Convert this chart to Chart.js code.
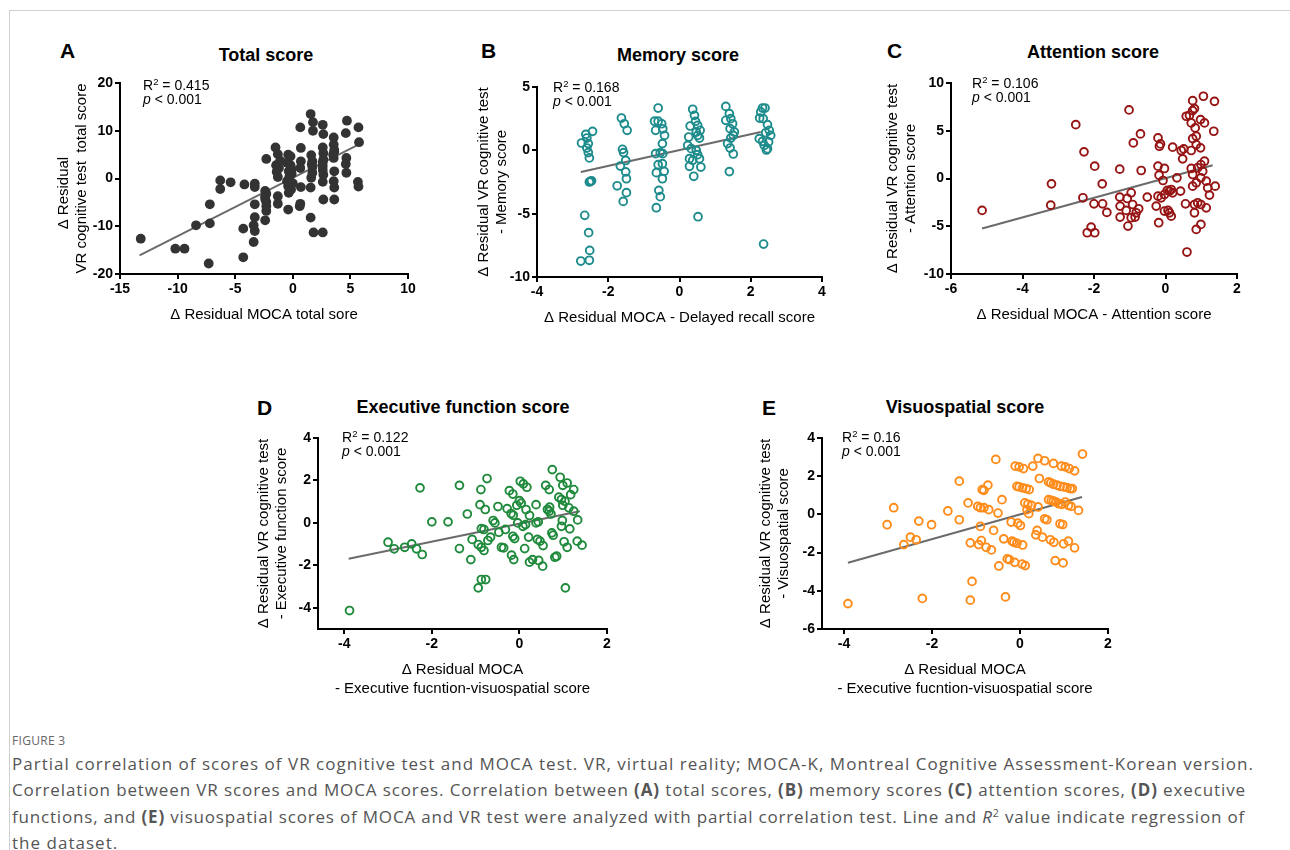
<!DOCTYPE html>
<html>
<head>
<meta charset="utf-8">
<script src="https://cdn.jsdelivr.net/npm/chart.js@4.4.1/dist/chart.umd.min.js"></script>
<style>
  html, body { margin:0; padding:0; background:#fff; }
  body { width:1290px; height:850px; position:relative; overflow:hidden; font-family:"Liberation Sans", Arial, sans-serif; }
  .frame { position:absolute; left:9px; top:10px; width:1400px; height:900px; border-top:1px solid #cfcfcf; border-left:1px solid #cfcfcf; }
  canvas { position:absolute; }
  .letter { position:absolute; font-weight:bold; font-size:21px; line-height:21px; color:#000; }
  .ptitle { position:absolute; font-weight:bold; font-size:18px; line-height:18px; color:#000; white-space:nowrap; transform:translateX(-50%); }
  .ann { position:absolute; font-size:14px; line-height:14px; color:#000; white-space:nowrap; }
  .ann sup { font-size:0.68em; position:relative; top:-0.5em; vertical-align:baseline; line-height:0; }
  .figlabel { position:absolute; left:12px; top:732px; font-family:"Open Sans", sans-serif; font-size:12px; color:#666; letter-spacing:0.3px; }
  .caption { position:absolute; left:12px; top:751px; font-family:"Open Sans", sans-serif; font-size:17px; line-height:26.3px; color:#555; white-space:nowrap; }
  .caption div { white-space:nowrap; }
  .caption sup { font-size:0.62em; position:relative; top:-0.5em; vertical-align:baseline; line-height:0; }
</style>
</head>
<body>
<div class="frame"></div>

<canvas id="cA"></canvas>
<canvas id="cB"></canvas>
<canvas id="cC"></canvas>
<canvas id="cD"></canvas>
<canvas id="cE"></canvas>

<div class="letter" style="left:60px;top:40px">A</div>
<div class="letter" style="left:481px;top:40px">B</div>
<div class="letter" style="left:887px;top:40px">C</div>
<div class="letter" style="left:257px;top:397px">D</div>
<div class="letter" style="left:762px;top:397px">E</div>

<div class="ptitle" style="left:266px;top:46px">Total score</div>
<div class="ptitle" style="left:678px;top:46px">Memory score</div>
<div class="ptitle" style="left:1093px;top:43px">Attention score</div>
<div class="ptitle" style="left:463px;top:398px">Executive function score</div>
<div class="ptitle" style="left:965px;top:398px">Visuospatial score</div>

<div class="ann" style="left:143px;top:78px">R<sup>2</sup> = 0.415<br><i>p</i> &lt; 0.001</div>
<div class="ann" style="left:553px;top:80px">R<sup>2</sup> = 0.168<br><i>p</i> &lt; 0.001</div>
<div class="ann" style="left:972px;top:76px">R<sup>2</sup> = 0.106<br><i>p</i> &lt; 0.001</div>
<div class="ann" style="left:342px;top:430px">R<sup>2</sup> = 0.122<br><i>p</i> &lt; 0.001</div>
<div class="ann" style="left:842px;top:430px">R<sup>2</sup> = 0.16<br><i>p</i> &lt; 0.001</div>

<div class="figlabel">FIGURE 3</div>
<div class="caption" id="cap">
<div><span id="cap1">Partial correlation of scores of VR cognitive test and MOCA test. VR, virtual reality; MOCA-K, Montreal Cognitive Assessment-Korean version.</span></div>
<div><span id="cap2">Correlation between VR scores and MOCA scores. Correlation between <b>(A)</b> total scores, <b>(B)</b> memory scores <b>(C)</b> attention scores, <b>(D)</b> executive</span></div>
<div><span id="cap3">functions, and <b>(E)</b> visuospatial scores of MOCA and VR test were analyzed with partial correlation test. Line and <i>R</i><sup>2</sup> value indicate regression of</span></div>
<div><span id="cap4">the dataset.</span></div>
</div>

<script>
// ---------- DATA ----------
const totalPts = [[-13.2,-12.6],[-10.2,-14.7],[-9.4,-14.7],[-8.4,-9.8],[-7.2,-5.4],[-7.2,-9.4],[-7.3,-17.8],[-6.3,-0.4],[-6.3,-2.2],[-5.4,-0.8],[-4.3,-10.5],[-4.3,-16.5],[-4.2,-1.25],[-3.3,-1.1],[-3.3,-1.8],[-3.3,-5.4],[-3.3,-8.1],[-3.4,-9.8],[-3.3,-11],[-3.4,-13.3],[-2.3,4.1],[-2.4,-2.6],[-2.4,-3.7],[-2.3,-4.9],[-2.3,-5.8],[-2.3,-6.8],[-2.4,-8.75],[-2.3,-3.2],[-2.4,-4.3],[-1.5,6.5],[-1.3,5.1],[-1.45,2.8],[-1.4,1.4],[-1.3,0.3],[-1.3,-3.7],[-1.3,-5.3],[-1.1,3.75],[-1.2,2.2],[-0.4,-6.5],[-0.4,5],[-0.5,3.3],[-0.35,1.5],[-0.5,-0.55],[-0.4,-1.6],[-0.35,-3],[-0.2,4.65],[-0.2,2.8],[-0.3,0.3],[-0.15,-2.3],[-0.1,1],[0,-1],[-0.1,2],[0.65,10.7],[0.7,6.4],[0.7,3.6],[0.65,2.2],[0.7,-1.8],[0.65,-5.3],[0.6,-5.8],[1.55,13.5],[1.75,11.8],[1.75,10],[1.6,4.9],[1.7,3.6],[1.7,2.4],[1.6,0.15],[1.55,-1.9],[1.55,-8.2],[1.8,-11.3],[1.65,3],[2.6,-11.3],[2.6,11.25],[2.65,9.3],[2.6,6.5],[2.65,5.3],[2.65,4],[2.6,2.6],[2.65,0.8],[2.6,-0.7],[2.65,-4.4],[2.6,3.4],[2.6,1.8],[3.55,8.6],[3.55,7.1],[3.6,6],[3.55,4.3],[3.6,1.5],[3.55,-0.55],[3.6,-1.9],[3.6,-4.4],[3.5,5],[3.6,5.6],[4.7,12.1],[4.6,9.5],[4.65,4.3],[4.65,1.2],[4.6,3.05],[5.7,10.7],[5.75,7.6],[5.65,-0.7],[5.7,-1.7],[1.7,1.2]];
const totalFit = [[-13.3,-16.1],[5.7,7.1]];

const memoryPts = [[-2.75,0.58],[-2.63,1.26],[-2.6,0.97],[-2.44,1.5],[-2.56,0.53],[-2.6,0.18],[-2.56,-0.18],[-2.53,-0.6],[-2.5,-2.45],[-2.47,-2.4],[-2.53,-2.5],[-2.66,-5.13],[-2.55,-6.5],[-2.52,-7.9],[-2.77,-8.74],[-2.53,-8.68],
[-1.63,2.55],[-1.55,2.1],[-1.47,1.58],[-1.6,0.08],[-1.57,-0.18],[-1.51,-0.8],[-1.66,-1.24],[-1.51,-1.7],[-1.49,-2.24],[-1.75,-2.8],[-1.49,-3.34],[-1.58,-4.03],
[-0.6,3.34],[-0.7,2.3],[-0.6,2.3],[-0.5,2.1],[-0.47,1.7],[-0.67,1.58],[-0.42,1.18],[-0.48,0.53],[-0.67,-0.26],[-0.54,-0.18],[-0.47,-0.26],[-0.48,-1.05],[-0.6,-1.13],[-0.65,-1.76],[-0.48,-2.24],[-0.58,-3.16],[-0.54,-3.66],[-0.65,-4.53],[-0.43,-1.66],
[0.37,3.24],[0.42,2.76],[0.45,2.29],[0.3,1.92],[0.51,1.97],[0.58,1.58],[0.47,1.45],[0.51,1.18],[0.56,0.97],[0.26,1.05],[0.23,0.39],[0.33,0.13],[0.47,0],[0.51,-0.34],[0.56,-0.66],[0.28,-0.66],[0.37,-0.79],[0.28,-1.26],[0.6,-1.32],[0.4,-2.05],[0.52,-5.24],
[1.3,3.47],[1.4,2.9],[1.44,2.5],[1.3,2.37],[1.49,2.1],[1.42,1.71],[1.54,1.45],[1.44,0.97],[1.35,0.53],[1.42,0.18],[1.51,-0.29],[1.4,-1.68],[1.51,1.18],
[2.33,3.34],[2.4,3.34],[2.28,3.03],[2.25,2.55],[2.35,2.5],[2.47,2.03],[2.52,1.58],[2.42,1.39],[2.56,1.18],[2.24,0.92],[2.33,0.71],[2.5,0.66],[2.38,0.39],[2.47,0.13],[2.44,0.03],[2.36,-7.4]];
const memoryFit = [[-2.77,-1.71],[2.28,1.45]];

const attentionPts = [[-5.13,-3.34],[-3.19,-0.56],[-3.21,-2.79],[-2.51,5.64],[-2.28,2.79],[-2.31,-2.02],[-2.19,-5.68],[-2.08,-5.09],[-1.98,-5.68],[-1.98,1.29],[-2.0,-2.65],[-1.77,-0.56],[-1.76,-2.65],[-1.64,-3.55],[-1.02,7.18],[-0.9,3.73],[-0.7,4.67],[-0.68,0.84],[-0.51,-1.95],[-1.28,0.98],[-1.28,-1.95],[-1.27,-2.89],[-1.27,-4.04],[-1.07,-2.09],[-1.05,-4.98],[-0.96,-1.5],[-1.1,-3.34],[-0.92,-2.72],[-0.82,-3.59],[-0.85,-4.04],[-0.75,-3.17],[-0.96,-4.11],[-0.21,4.25],[-0.17,3.38],[-0.14,3.62],[-0.21,1.29],[-0.03,1.05],[-0.18,0.35],[-0.07,-0.21],[-0.21,-1.85],[-0.26,-2.89],[-0.19,-4.63],[-0.12,-2.02],[-0.03,-1.67],[0.05,-1.25],[0.11,-1.32],[0.16,-1.15],[0.2,-1.5],[0.07,-3.34],[0.11,-3.59],[0.16,-3.94],[-0.03,-3.41],[0.2,3.28],[0.32,0.07],[0.44,2.93],[0.48,2.06],[0.51,3.1],[0.42,-1.32],[0.58,6.52],[0.67,6.62],[0.76,8.15],[0.76,7.11],[0.81,7.32],[0.72,5.82],[0.83,5.3],[0.76,4.18],[0.86,4.43],[0.72,2.93],[0.98,6.17],[1.09,5.82],[1.06,8.61],[1.37,8.08],[1.35,4.95],[0.98,3.21],[0.86,3.55],[0.72,1.05],[0.76,0.42],[0.9,1.12],[1.09,1.81],[0.99,1.46],[1.04,0.77],[0.99,0.07],[0.86,-0.45],[0.76,-0.8],[1.14,-0.28],[1.18,-0.98],[1.39,-0.8],[1.23,-1.74],[0.81,-2.72],[0.9,-2.54],[0.99,-2.72],[1.14,-3.07],[0.81,-3.59],[0.56,-2.65],[0.99,-4.81],[0.86,-5.33],[0.6,-7.7]];
const attentionFit = [[-5.13,-5.23],[1.32,1.39]];

const executivePts = [[-3.88,-4.13],[-3.0,-0.91],[-2.86,-1.22],[-2.62,-1.15],[-2.46,-0.99],[-2.35,-1.22],[-2.22,-1.49],[-2.27,1.65],[-2.0,0.05],[-1.63,0.05],[-1.37,1.77],[-1.19,0.42],[-1.37,-1.21],[-1.11,-1.73],[-1.08,-0.78],[-0.94,-3.06],[-0.87,-2.67],[-0.77,-2.67],[-0.88,1.57],[-0.9,0.86],[-0.78,0.63],[-0.74,2.09],[-0.87,-0.27],[-0.81,-0.31],[-0.94,-1.02],[-0.87,-1.15],[-0.81,-1.3],[-0.72,-0.83],[-0.66,-0.67],[-0.56,0],[-0.6,0.11],[-0.49,0.77],[-0.47,-0.44],[-0.41,-1.15],[-0.36,-1.18],[-0.32,-0.31],[-0.28,0.67],[-0.23,1.52],[-0.15,1.36],[-0.19,0.44],[-0.14,0.36],[-0.15,-0.63],[-0.11,-0.74],[-0.18,-1.52],[-0.13,-1.73],[-0.06,0.83],[0,1.05],[0.04,0.93],[-0.04,0],[0.02,1.96],[0.09,1.84],[0.17,1.68],[0.08,-0.16],[0.14,-0.08],[0.15,0.63],[0.23,0.35],[0.21,-0.67],[0.12,-1.21],[0.23,-1.85],[0.3,-1.73],[0.38,0],[0.43,0.05],[0.38,0.86],[0.41,-0.78],[0.47,-0.86],[0.54,-1.07],[0.44,-1.77],[0.53,-2.04],[0.6,1.77],[0.68,1.57],[0.64,0.63],[0.68,0.55],[0.72,0.42],[0.69,0.74],[0.74,-0.47],[0.77,-0.58],[0.81,-1.62],[0.85,-1.57],[0.75,2.51],[0.93,2.15],[0.99,1.77],[1.09,1.88],[1.24,1.57],[1.17,1.33],[0.9,1.21],[0.96,1.1],[1.04,1.02],[0.99,0.83],[1.13,0.71],[1.24,0.55],[0.98,0.11],[0.96,-0.16],[1.15,-0.28],[1.02,-0.89],[1.09,-1.15],[1.32,-0.86],[1.43,-1.05],[1.33,0.14],[1.05,-3.06]];
const executiveFit = [[-3.9,-1.69],[1.38,0.55]];

const visuoPts = [[-3.91,-4.67],[-3.02,-0.54],[-2.87,0.35],[-2.64,-1.58],[-2.49,-1.19],[-2.36,-1.33],[-2.3,-0.35],[-2.22,-4.4],[-2.01,-0.54],[-1.64,0.18],[-1.38,1.74],[-1.38,-0.28],[-1.18,0.6],[-1.13,-1.49],[-1.09,-3.51],[-1.13,-4.49],[-0.96,0.42],[-0.9,0.35],[-0.9,-0.63],[-0.94,-1.58],[-0.88,-1.37],[-0.86,1.3],[-0.82,1.26],[-0.73,1.53],[-0.82,0.35],[-0.71,0.25],[-0.77,-1.72],[-0.65,-1.86],[-0.6,-0.84],[-0.55,2.88],[-0.5,0.07],[-0.48,-2.7],[-0.41,0.77],[-0.37,-1.28],[-0.33,-4.32],[-0.29,-2.33],[-0.24,-2.37],[-0.2,-0.4],[-0.18,-1.4],[-0.12,-2.51],[-0.14,-1.46],[-0.07,-1.51],[-0.05,-0.46],[0.01,-0.58],[0.06,-1.6],[0.05,-2.6],[0.12,-2.68],[-0.11,2.53],[-0.02,2.49],[0.08,2.4],[-0.07,1.47],[-0.02,1.44],[0.06,1.39],[0.14,1.35],[0.21,1.3],[0.11,0.6],[0.18,0.53],[0.26,0.47],[0.2,0.04],[0.16,0.25],[0.29,2.53],[0.41,2.93],[0.56,2.81],[0.44,1.88],[0.41,0.39],[0.39,-0.84],[0.36,-1.07],[0.51,-1.19],[0.56,-0.23],[0.61,-0.28],[0.65,1.7],[0.7,1.65],[0.76,1.58],[0.84,1.53],[0.91,1.47],[0.99,1.44],[1.07,1.4],[1.14,1.35],[1.19,1.35],[0.65,0.77],[0.71,0.74],[0.76,0.7],[0.82,0.65],[0.88,0.56],[0.95,0.53],[1.03,0.65],[1.1,0.47],[1.16,0.42],[1.33,0.21],[0.76,2.67],[0.94,2.53],[1.03,2.49],[1.12,2.4],[1.24,2.28],[0.91,-0.49],[0.97,-0.53],[0.69,-1.33],[0.77,-1.46],[0.99,-1.54],[1.1,-1.4],[1.24,-1.75],[0.8,-2.42],[0.98,-2.54],[1.42,3.16]];
const visuoFit = [[-3.91,-2.53],[1.41,0.91]];

// tick labels
const ticksAx = [-15,-10,-5,0,5,10], ticksAy = [-20,-10,0,10,20];
const ticksBx = [-4,-2,0,2,4],      ticksBy = [-10,-5,0,5];
const ticksCx = [-6,-4,-2,0,2],     ticksCy = [-10,-5,0,5,10];
const ticksDx = [-4,-2,0,2],        ticksDy = [-4,-2,0,2,4];
const ticksEx = [-4,-2,0,2],        ticksEy = [-6,-4,-2,0,2,4];

// ---------- CAPTION FIT (each wrapped line stretched to the reference line width) ----------
(function () {
  const targets = {cap1: 1242, cap2: 1234, cap3: 1233};
  let base = 0;
  for (const id of ['cap1', 'cap2', 'cap3']) {
    const el = document.getElementById(id);
    const w = el.getBoundingClientRect().width;
    const ls = (targets[id] - w) / el.textContent.length;
    el.style.letterSpacing = ls.toFixed(3) + 'px';
    if (id === 'cap1') base = ls;
  }
  document.getElementById('cap4').style.letterSpacing = base.toFixed(3) + 'px';
})();

// ---------- DRAW ----------
const FONT = '"Liberation Sans", Arial, sans-serif';
const toXY = arr => arr.map(p => ({x: p[0], y: p[1]}));

function panel(id, box, pts, fit, cfg) {
  const padT = 12, padR = 16;
  const cv = document.getElementById(id);
  const w = (box.R - box.L) + cfg.yW + padR;
  const h = padT + (box.B - box.T) + cfg.xH;
  cv.width = w; cv.height = h;
  cv.style.left = (box.L - cfg.yW) + 'px';
  cv.style.top = (box.T - padT) + 'px';
  cv.style.width = w + 'px'; cv.style.height = h + 'px';
  const axisCommon = (ticks, title, min, max, isX) => ({
    type: 'linear', min, max,
    afterBuildTicks: s => { s.ticks = ticks.map(v => ({value: v})); },
    afterFit: s => { if (isX) s.height = cfg.xH; else s.width = cfg.yW; },
    ticks: { font: {family: FONT, size: 14, weight: 'bold'}, color: '#000', padding: 2, maxRotation: 0, autoSkip: false },
    grid: { drawOnChartArea: false, drawTicks: true, tickLength: 5, color: '#000', lineWidth: 2 },
    border: { display: true, color: '#000', width: 2 },
    title: { display: true, text: title, font: {family: FONT, size: 15, lineHeight: 1.25}, color: '#000', padding: 0 }
  });
  new Chart(cv, {
    type: 'scatter',
    data: { datasets: [
      { data: toXY(pts), pointRadius: cfg.filled ? 4.9 : 3.9, pointBorderWidth: cfg.filled ? 0 : 1.9,
        pointBackgroundColor: cfg.filled ? cfg.color : 'rgba(0,0,0,0)', pointBorderColor: cfg.color, pointHoverRadius: 0 },
      { type: 'line', data: toXY(fit), borderColor: '#6b6b6b', borderWidth: 2, pointRadius: 0, fill: false }
    ]},
    options: {
      responsive: false, animation: false, devicePixelRatio: 1,
      layout: { padding: { top: padT, right: padR, left: 0, bottom: 0 } },
      plugins: { legend: {display: false}, tooltip: {enabled: false} },
      scales: {
        x: axisCommon(cfg.xt, cfg.xTitle, cfg.xmin, cfg.xmax, true),
        y: axisCommon(cfg.yt, cfg.yTitle, cfg.ymin, cfg.ymax, false)
      }
    }
  });
}

panel('cA', {L:120, T:83, R:408, B:274}, totalPts, totalFit, {
  yW: 66, xH: 50, filled: true, color: '#333333',
  xt: ticksAx, yt: ticksAy, xmin: -15, xmax: 10, ymin: -20, ymax: 20,
  xTitle: 'Δ Residual MOCA total sore', yTitle: ['Δ Residual       ', 'VR cognitive test  total score']
});
panel('cB', {L:537, T:87, R:822, B:277}, memoryPts, memoryFit, {
  yW: 63, xH: 50, filled: false, color: '#1e8c8c',
  xt: ticksBx, yt: ticksBy, xmin: -4, xmax: 4, ymin: -10, ymax: 5,
  xTitle: 'Δ Residual MOCA - Delayed recall score', yTitle: ['Δ Residual VR cognitive test', '- Memory score']
});
panel('cC', {L:951, T:83, R:1237, B:274}, attentionPts, attentionFit, {
  yW: 68, xH: 50, filled: false, color: '#961414',
  xt: ticksCx, yt: ticksCy, xmin: -6, xmax: 2, ymin: -10, ymax: 10,
  xTitle: 'Δ Residual MOCA - Attention score', yTitle: ['Δ Residual VR cognitive test', '- Attention score']
});
panel('cD', {L:318, T:438, R:607, B:629}, executivePts, executiveFit, {
  yW: 64, xH: 69, filled: false, color: '#1f8a3c',
  xt: ticksDx, yt: ticksDy, xmin: -4.6, xmax: 2, ymin: -5, ymax: 4,
  xTitle: ['Δ Residual MOCA', '- Executive fucntion-visuospatial score'], yTitle: ['Δ Residual VR cognitive test', '- Executive function score']
});
panel('cE', {L:822, T:438, R:1108, B:629}, visuoPts, visuoFit, {
  yW: 66, xH: 69, filled: false, color: '#ff8c1a',
  xt: ticksEx, yt: ticksEy, xmin: -4.5, xmax: 2, ymin: -6, ymax: 4,
  xTitle: ['Δ Residual MOCA', '- Executive fucntion-visuospatial score'], yTitle: ['Δ Residual VR cognitive test', '- Visuospatial score']
});
</script>
</body>
</html>
